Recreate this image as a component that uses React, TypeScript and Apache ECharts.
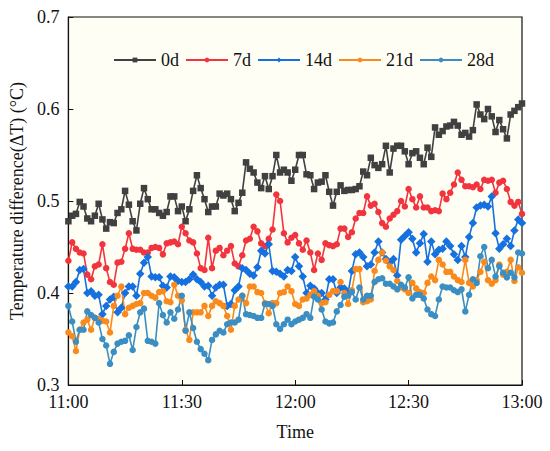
import React, { useEffect, useRef } from "react";
import * as echarts from "echarts";

const timeTicks = ["11:00", "11:30", "12:00", "12:30", "13:00"];
const seriesNames = ["0d", "7d", "14d", "21d", "28d"];
const seriesColors = ["#404040", "#f2343f", "#1570e0", "#f98a1e", "#3a8ec3"];
const seriesSymbols = ["rect", "circle", "diamond", "circle", "circle"];

const d0 = [
  0.478, 0.484, 0.486, 0.499, 0.494, 0.481, 0.478, 0.484, 0.497, 0.48, 0.47, 0.477, 0.476, 0.487, 0.491, 0.511,
  0.496, 0.478, 0.468, 0.497, 0.514, 0.502, 0.491, 0.491, 0.487, 0.484, 0.488, 0.505, 0.505, 0.489, 0.494,
  0.478, 0.491, 0.511, 0.528, 0.514, 0.502, 0.488, 0.494, 0.494, 0.508, 0.506, 0.508, 0.502, 0.489, 0.498,
  0.509, 0.542, 0.535, 0.531, 0.52, 0.514, 0.527, 0.513, 0.527, 0.55,
  0.531, 0.534, 0.531, 0.522, 0.534, 0.55, 0.55, 0.529, 0.528, 0.513, 0.52, 0.521, 0.528, 0.51, 0.495, 0.51,
  0.517, 0.511, 0.512, 0.512, 0.513, 0.516, 0.532, 0.528, 0.547, 0.539, 0.536, 0.54, 0.56, 0.531, 0.557, 0.56,
  0.56, 0.554, 0.54, 0.552, 0.554, 0.547, 0.54, 0.558, 0.548, 0.58, 0.572, 0.576, 0.581, 0.582, 0.586, 0.582,
  0.572, 0.574, 0.57, 0.577, 0.605, 0.594, 0.589, 0.6, 0.592, 0.575, 0.588, 0.578, 0.568, 0.594, 0.598, 0.602,
  0.606,
];

const d7 = [
  0.435, 0.455, 0.448, 0.444, 0.443, 0.42, 0.415, 0.429, 0.431, 0.453, 0.427, 0.412, 0.409, 0.433, 0.434, 0.448,
  0.465, 0.448, 0.447, 0.447, 0.444, 0.444, 0.449, 0.45, 0.449, 0.442, 0.454, 0.455, 0.456, 0.453, 0.472, 0.465,
  0.457, 0.455, 0.443, 0.427, 0.425, 0.46, 0.427, 0.446, 0.449, 0.441, 0.446, 0.451, 0.432, 0.429, 0.441, 0.457,
  0.459, 0.472, 0.467, 0.454, 0.451, 0.459, 0.469, 0.507, 0.5, 0.465, 0.455,
  0.46, 0.463, 0.454, 0.447, 0.457, 0.444, 0.425, 0.443, 0.436, 0.454, 0.452, 0.451, 0.453, 0.47, 0.47, 0.461,
  0.466, 0.481, 0.487, 0.487, 0.505, 0.495, 0.497, 0.488, 0.476, 0.472, 0.481, 0.485, 0.489, 0.5,
  0.494, 0.513, 0.502, 0.493, 0.505, 0.493, 0.493, 0.489, 0.49, 0.489, 0.508, 0.502, 0.509, 0.518, 0.531, 0.523,
  0.516, 0.516, 0.515, 0.518, 0.513, 0.523, 0.522, 0.523, 0.509, 0.52, 0.522, 0.513, 0.499, 0.495, 0.499, 0.486,
];

const d14 = [
  0.407, 0.407, 0.412, 0.425, 0.426, 0.4, 0.402, 0.397, 0.398, 0.377, 0.386, 0.393, 0.396, 0.379, 0.384, 0.4,
  0.407, 0.407, 0.397, 0.421, 0.433, 0.439, 0.418, 0.417, 0.417, 0.408, 0.406, 0.418, 0.417, 0.413,
  0.412, 0.412, 0.415, 0.42, 0.415, 0.412, 0.407, 0.408, 0.397, 0.406, 0.409, 0.409, 0.386, 0.388, 0.403, 0.407,
  0.427, 0.425, 0.421, 0.419, 0.428, 0.446, 0.443, 0.453, 0.424, 0.423, 0.421, 0.418, 0.425,
  0.424, 0.439, 0.429, 0.418, 0.4, 0.408, 0.405, 0.4, 0.4, 0.393, 0.415, 0.415, 0.4, 0.406, 0.405, 0.4, 0.424,
  0.442, 0.444, 0.439, 0.429, 0.431, 0.444, 0.456, 0.444, 0.437, 0.433, 0.437, 0.419, 0.458,
  0.462, 0.466, 0.459, 0.444, 0.454, 0.464, 0.434, 0.456, 0.442, 0.447, 0.448, 0.456, 0.451, 0.442, 0.436, 0.451,
  0.439, 0.461, 0.476, 0.493, 0.495, 0.496, 0.494, 0.505, 0.465, 0.448, 0.453, 0.459, 0.451, 0.468, 0.48, 0.476,
];

const d21 = [
  0.357, 0.353, 0.337, 0.36, 0.368, 0.371, 0.36, 0.373, 0.372, 0.37, 0.369, 0.357, 0.386, 0.397, 0.407, 0.377,
  0.384, 0.386, 0.388, 0.389, 0.4, 0.4, 0.397, 0.395, 0.401, 0.402, 0.391, 0.39, 0.409, 0.397,
  0.392, 0.36, 0.349, 0.379, 0.379, 0.379, 0.386, 0.375, 0.386, 0.391, 0.389, 0.386, 0.375, 0.36, 0.386, 0.393,
  0.397, 0.389, 0.407, 0.407, 0.401, 0.4, 0.389, 0.378, 0.389, 0.389, 0.4, 0.401, 0.407,
  0.402, 0.388, 0.386, 0.393, 0.394, 0.398, 0.402, 0.397, 0.389, 0.39, 0.398, 0.402, 0.402, 0.412, 0.4, 0.388,
  0.403, 0.426, 0.426, 0.39, 0.391, 0.393, 0.424, 0.436, 0.444, 0.435, 0.429, 0.425, 0.413, 0.406,
  0.404, 0.4, 0.411, 0.405, 0.401, 0.4, 0.411, 0.418, 0.414, 0.436, 0.431, 0.423, 0.423, 0.418, 0.414, 0.412,
  0.436, 0.411, 0.407, 0.414, 0.423, 0.434, 0.414, 0.41, 0.414, 0.431, 0.42, 0.423, 0.436, 0.413, 0.428, 0.422,
];

const d28 = [
  0.386, 0.369, 0.347, 0.36, 0.36, 0.38, 0.376, 0.373, 0.368, 0.35, 0.343, 0.323, 0.336, 0.345, 0.347, 0.348,
  0.354, 0.338, 0.363, 0.379, 0.383, 0.348, 0.347, 0.345, 0.389, 0.376, 0.368, 0.379, 0.372, 0.382, 0.397,
  0.359, 0.379, 0.362, 0.347, 0.339, 0.334, 0.327, 0.349, 0.355, 0.359, 0.357, 0.366, 0.368, 0.368, 0.371,
  0.397, 0.377, 0.376, 0.375, 0.373, 0.373, 0.388, 0.388, 0.386,
  0.366, 0.361, 0.366, 0.371, 0.366, 0.369, 0.371, 0.373, 0.377, 0.373,
  0.396, 0.393, 0.382, 0.369, 0.367, 0.368, 0.38, 0.387, 0.396, 0.397,
  0.401, 0.393, 0.406, 0.393, 0.397, 0.397, 0.412, 0.415, 0.416, 0.41,
  0.41, 0.407, 0.404, 0.409, 0.406, 0.417, 0.394, 0.398, 0.398, 0.394,
  0.382, 0.377, 0.375, 0.393, 0.407, 0.406, 0.406, 0.403, 0.401, 0.404,
  0.38, 0.398, 0.415, 0.411, 0.44, 0.45, 0.427, 0.436, 0.418, 0.429,
  0.422, 0.417, 0.422, 0.417, 0.444, 0.443,
];

const allSeries = [d0, d7, d14, d21, d28];
const symbolSizes = [6.5, 6.5, 8.5, 6.5, 6.5];

const FONT = "'Liberation Serif', 'Times New Roman', serif";

export default function App() {
  const ref = useRef<HTMLDivElement>(null);

  useEffect(() => {
    const chart = echarts.init(ref.current!, null, { renderer: "svg" });
    const option: any = {
      animation: false,
      textStyle: { fontFamily: FONT },
      grid: {
        left: 65,
        right: 28,
        top: 17,
        bottom: 66,
        show: true,
        backgroundColor: "#fefef5",
        borderColor: "#111",
        borderWidth: 1.2,
      },
      legend: {
        data: seriesNames,
        left: 108,
        top: 46,
        itemWidth: 42,
        itemHeight: 6,
        itemGap: 6,
        textStyle: { fontFamily: FONT, fontSize: 18, color: "#111" },
      },
      xAxis: {
        type: "value",
        min: 0,
        max: 120,
        interval: 30,
        name: "Time",
        nameLocation: "middle",
        nameGap: 38,
        nameTextStyle: { fontFamily: FONT, fontSize: 18, color: "#111" },
        axisLine: { show: true, lineStyle: { color: "#111", width: 1.2 } },
        axisTick: { show: true, inside: true, length: 5, lineStyle: { color: "#111" } },
        axisLabel: {
          fontFamily: FONT,
          fontSize: 18,
          color: "#111",
          margin: 8,
          formatter: (v: number) => timeTicks[Math.round(v / 30)] ?? "",
        },
        splitLine: { show: false },
      },
      yAxis: {
        type: "value",
        min: 0.3,
        max: 0.7,
        interval: 0.1,
        name: "Temperature difference(ΔT) (°C)",
        nameLocation: "middle",
        nameGap: 35,
        nameTextStyle: { fontFamily: FONT, fontSize: 18, color: "#111" },
        axisLine: { show: true, lineStyle: { color: "#111", width: 1.2 } },
        axisTick: { show: true, inside: true, length: 5, lineStyle: { color: "#111" } },
        axisLabel: {
          fontFamily: FONT,
          fontSize: 18,
          color: "#111",
          margin: 9,
          formatter: (v: number) => v.toFixed(1),
        },
        splitLine: { show: false },
      },
      series: allSeries.map((arr, k) => ({
        name: seriesNames[k],
        type: "line",
        data: arr.map((v, i) => [i, v]),
        symbol: seriesSymbols[k],
        symbolSize: symbolSizes[k],
        showAllSymbol: true,
        itemStyle: { color: seriesColors[k] },
        lineStyle: { color: seriesColors[k], width: 1.6 },
      })),
    };
    chart.setOption(option);
    return () => chart.dispose();
  }, []);

  return (
    <div
      ref={ref}
      style={{ position: "absolute", left: 0, top: 0, width: 550, height: 451 }}
    />
  );
}
